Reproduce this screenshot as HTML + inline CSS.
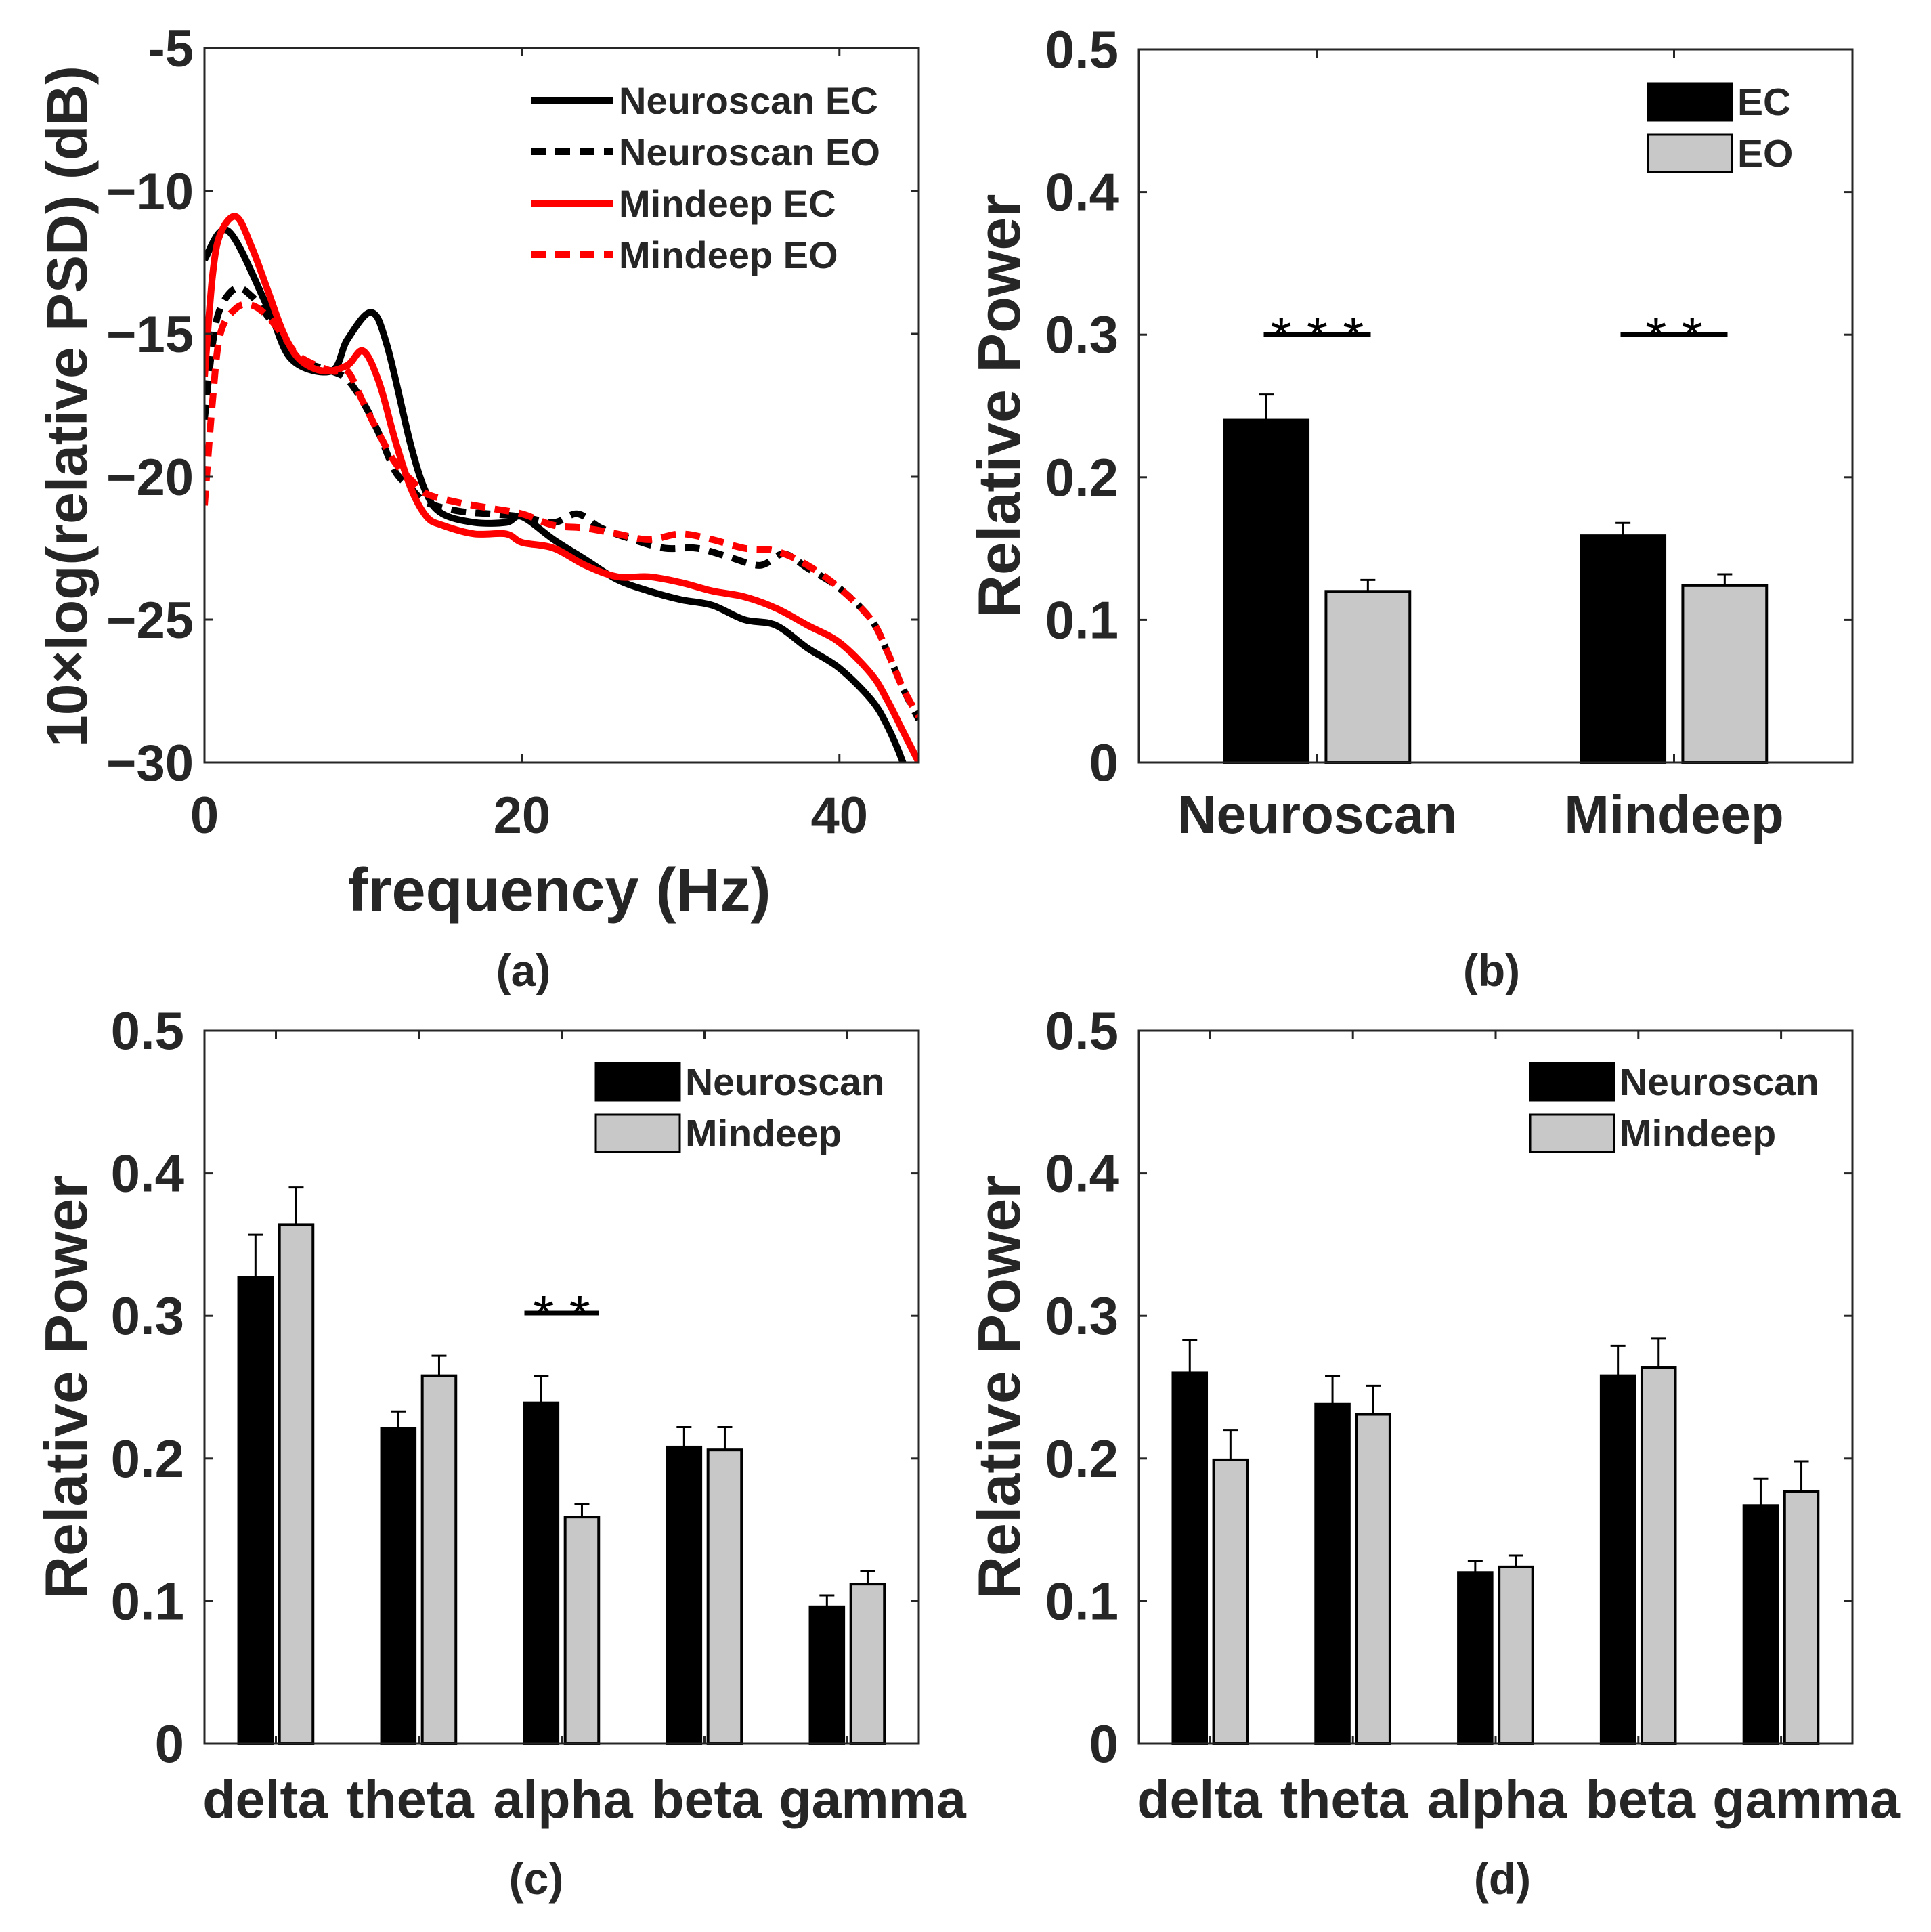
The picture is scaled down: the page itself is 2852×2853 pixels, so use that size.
<!DOCTYPE html>
<html><head><meta charset="utf-8">
<style>
html,body{margin:0;padding:0;background:#fff;}
svg{display:block;font-family:"Liberation Sans",sans-serif;font-weight:bold;}
</style></head>
<body>
<svg id="fig" width="2852" height="2853" viewBox="0 0 2852 2853" xmlns="http://www.w3.org/2000/svg"></svg>
<script>
// ---- Panel (a) data ----
const freqNEC = [0,1.5,4,5.5,8,9,10.5,11.5,13,14,15,17,19,20,22,24,26,28,30,32,34,36,38,40,42,43,44,44.5];
const psdNEC  = [-12.4,-11.4,-14.1,-15.9,-16.3,-15.2,-14.25,-15.4,-18.9,-20.6,-21.3,-21.6,-21.6,-21.4,-22.2,-22.9,-23.6,-24,-24.3,-24.5,-25,-25.2,-26,-26.7,-27.8,-28.7,-30,-31];
const freqMEC = [0,0.5,1,2,3,4,5,6,7.5,9,10,11,12,13,14,15,17,19,20,22,24,26,28,30,32,34,36,38,40,42,43,44,45];
const psdMEC  = [-16.5,-13,-11.5,-10.9,-12,-13.5,-15,-15.9,-16.3,-16.1,-15.6,-16.7,-18.7,-20.4,-21.4,-21.7,-22,-22,-22.3,-22.5,-23.1,-23.5,-23.5,-23.7,-24,-24.2,-24.6,-25.2,-25.8,-26.9,-27.8,-28.9,-30];
const freqNEO = [0,0.5,1,2,3,4,5,6,8,9,10,11,12,13,14,16,18,20,22,23.5,25,27,29,31,33,35,36.5,38,40,42,43,44,45];
const psdNEO  = [-18,-15.4,-14.1,-13.4,-13.7,-14.4,-15.1,-15.9,-16.3,-16.6,-17.4,-18.5,-19.8,-20.4,-20.9,-21.2,-21.3,-21.4,-21.6,-21.3,-21.8,-22.2,-22.5,-22.5,-22.8,-23.1,-22.7,-23.2,-23.9,-25,-26.1,-27.4,-28.5];
const freqMEO = [0,0.5,1,2,3,4,5,6,8,9,10,11,12,13,14,16,18,20,22,24,26,28,30,32,34,36,38,40,42,43,44,45];
const psdMEO  = [-21,-17.4,-15,-14.1,-14,-14.4,-15.1,-15.8,-16.3,-16.3,-17.4,-18.5,-19.5,-20.1,-20.6,-20.9,-21.1,-21.3,-21.7,-21.8,-22,-22.2,-22,-22.2,-22.5,-22.6,-23.1,-23.9,-25,-26.1,-27.4,-28.4];
const aXTicks = [0,20,40];
const aYTicks = [-5,-10,-15,-20,-25,-30];
const aYLabels = ["-5","\u221210","\u221215","\u221220","\u221225","\u221230"];

// ---- Panel (b) data ----
const bCats = ["Neuroscan","Mindeep"];
const bEC = [0.240,0.159];
const bECerr = [0.018,0.009];
const bEO = [0.120,0.124];
const bEOerr = [0.008,0.008];

// ---- Panel (c) data ----
const bands = ["delta","theta","alpha","beta","gamma"];
const cNeuro = [0.327,0.221,0.239,0.208,0.096];
const cNeuroErr = [0.030,0.012,0.019,0.014,0.008];
const cMind = [0.364,0.258,0.159,0.206,0.112];
const cMindErr = [0.026,0.014,0.009,0.016,0.009];

// ---- Panel (d) data ----
const dNeuro = [0.260,0.238,0.120,0.258,0.167];
const dNeuroErr = [0.023,0.020,0.008,0.021,0.019];
const dMind = [0.199,0.231,0.124,0.264,0.177];
const dMindErr = [0.021,0.020,0.008,0.020,0.021];

const barYTicks = [0,0.1,0.2,0.3,0.4,0.5];
const barYLabels = ["0","0.1","0.2","0.3","0.4","0.5"];

const NS="http://www.w3.org/2000/svg";
const svg=document.getElementById('fig');
const AX="#262626";
function mk(tag,attrs,parent){const e=document.createElementNS(NS,tag);for(const k in attrs)e.setAttribute(k,attrs[k]);(parent||svg).appendChild(e);return e;}
function txt(s,x,y,size,anchor,parent){const t=mk('text',{x:x,y:y,'font-size':size,'text-anchor':anchor||'middle',fill:AX},parent);t.textContent=s;return t;}

function frame(g,L,R,T,B){
  mk('rect',{x:L,y:T,width:R-L,height:B-T,fill:'none',stroke:AX,'stroke-width':3},g);
}

// ===== Panel A =====
(function(){
  const L=302,R=1357,T=71,B=1126;
  const g=mk('g',{});
  
  
  const sx=f=>L+(f-0)/(45-0)*(R-L);
  const sy=v=>T+(-5-v)/25*(B-T);
  mk('clipPath',{id:'clipA'},g);
  const cp=g.lastChild; mk('rect',{x:L,y:T,width:R-L,height:B-T},cp);
  const series=[
    [freqNEC,psdNEC,'#000',null,'neuroscan-ec-line'],
    [freqNEO,psdNEO,'#000','22,14','neuroscan-eo-line'],
    [freqMEC,psdMEC,'#f00',null,'mindeep-ec-line'],
    [freqMEO,psdMEO,'#f00','22,14','mindeep-eo-line']];
  series.forEach(s=>{
    const pts=s[0].map((f,i)=>[sx(f),sy(s[1][i])]);
    let d='M'+pts[0][0]+','+pts[0][1];
    for(let i=0;i<pts.length-1;i++){
      const p0=pts[Math.max(0,i-1)],p1=pts[i],p2=pts[i+1],p3=pts[Math.min(pts.length-1,i+2)];
      const c1=[p1[0]+(p2[0]-p0[0])/6,p1[1]+(p2[1]-p0[1])/6];
      const c2=[p2[0]-(p3[0]-p1[0])/6,p2[1]-(p3[1]-p1[1])/6];
      d+=' C'+c1[0]+','+c1[1]+' '+c2[0]+','+c2[1]+' '+p2[0]+','+p2[1];
    }
    const p=mk('path',{d:d,fill:'none',stroke:s[2],'stroke-width':10,'clip-path':'url(#clipA)','stroke-linejoin':'round'},g);
    if(s[3])p.setAttribute('stroke-dasharray',s[3]);
    
    
  });
  frame(g,L,R,T,B);
  aXTicks.forEach(v=>{
    const x=sx(v);
    mk('line',{x1:x,y1:B,x2:x,y2:B-12,stroke:AX,'stroke-width':3},g);
    mk('line',{x1:x,y1:T,x2:x,y2:T+12,stroke:AX,'stroke-width':3},g);
    const t=txt(String(v),x,1230,76,'middle',g);
    
    
  });
  aYTicks.forEach((v,i)=>{
    const y=sy(v);
    mk('line',{x1:L,y1:y,x2:L+12,y2:y,stroke:AX,'stroke-width':3},g);
    mk('line',{x1:R,y1:y,x2:R-12,y2:y,stroke:AX,'stroke-width':3},g);
    const t=txt(aYLabels[i],286,y+27,76,'end',g);
    
    
  });
  const xt=txt('frequency (Hz)',826,1345,90,'middle',g);
  
  
  const yt=txt('10\u00d7log(relative PSD) (dB)',0,0,84,'middle',g);
  yt.setAttribute('transform','translate(128,600) rotate(-90)');
  
  
  const leg=[['Neuroscan EC','#000',null],['Neuroscan EO','#000','22,14'],['Mindeep EC','#f00',null],['Mindeep EO','#f00','22,14']];
  const ly=[148,224,300,376];
  leg.forEach((l,i)=>{
    const ln=mk('line',{x1:784,y1:ly[i],x2:905,y2:ly[i],stroke:l[1],'stroke-width':10},g);
    if(l[2])ln.setAttribute('stroke-dasharray',l[2]);
    
    
    const t=txt(l[0],914,ly[i]+20,56,'start',g);
    
    
  });
})();

// ===== Bar panels =====
function barPanel(name,L,R,T,B,cats,s1,e1,s2,e2,legNames,legX,legY,catSize,catY,ylabX,sig,labShift){
  const g=mk('g',{});
  
  
  const n=cats.length;
  const sx=c=>L+(c-0.5)/n*(R-L);
  const sy=v=>B-v/0.5*(B-T);
  const bw=0.235;
  [[s1,e1,'#000',-0.143],[s2,e2,'#c8c8c8',0.142]].forEach(sr=>{
    sr[0].forEach((v,i)=>{
      const cx=sx(i+1+sr[3]);
      const x0=sx(i+1+sr[3]-bw/2),x1=sx(i+1+sr[3]+bw/2);
      const top=sy(v+sr[1][i]);
      const el=mk('line',{x1:cx,y1:sy(v),x2:cx,y2:top,stroke:'#000','stroke-width':3},g);
      
      
      mk('line',{x1:cx-11,y1:top,x2:cx+11,y2:top,stroke:'#000','stroke-width':3},g);
      const r=mk('rect',{x:x0,y:sy(v),width:x1-x0,height:sy(0)-sy(v),fill:sr[2],stroke:'#000','stroke-width':4},g);
      
      
    });
  });
  frame(g,L,R,T,B);
  cats.forEach((c,i)=>{
    const x=sx(i+1);
    mk('line',{x1:x,y1:B,x2:x,y2:B-12,stroke:AX,'stroke-width':3},g);
    mk('line',{x1:x,y1:T,x2:x,y2:T+12,stroke:AX,'stroke-width':3},g);
    const t=txt(c,x+(labShift?labShift[i]:0),catY,catSize,'middle',g);
    
    
  });
  barYTicks.forEach((v,i)=>{
    const y=sy(v);
    mk('line',{x1:L,y1:y,x2:L+12,y2:y,stroke:AX,'stroke-width':3},g);
    mk('line',{x1:R,y1:y,x2:R-12,y2:y,stroke:AX,'stroke-width':3},g);
    const t=txt(barYLabels[i],L-30,y+27,78,'end',g);
    
    
  });
  const yt=txt('Relative Power',0,0,88,'middle',g);
  yt.setAttribute('transform','translate('+ylabX+','+((T+B)/2)+') rotate(-90)');
  
  
  [['#000',legNames[0]],['#c8c8c8',legNames[1]]].forEach((l,i)=>{
    const y=legY+i*76;
    const r=mk('rect',{x:legX,y:y,width:124,height:55,fill:l[0],stroke:'#000','stroke-width':3},g);
    
    
    const t=txt(l[1],legX+132,y+47,57,'start',g);
    
    
  });
  sig.forEach(s=>{
    const y=sy(s.y);
    const cx=sx(s.c);
    const ln=mk('line',{x1:cx-s.hw,y1:y,x2:cx+s.hw,y2:y,stroke:'#000','stroke-width':7},g);
    
    
    const t=mk('text',{x:cx,y:y+30,'font-size':80,'text-anchor':'middle',fill:'#000','font-weight':'normal'},g);
    t.textContent=s.t;
    
    
  });
}
const bandLabelShift=[-16,-13,2,3,37];
barPanel('bar-panel-b',1682,2736,73,1126,bCats,bEC,bECerr,bEO,bEOerr,['EC','EO'],2434,123,80,1230,1506,
  [{c:1,y:0.3,t:'* * *',hw:79},{c:2,y:0.3,t:'* *',hw:79}],null);
barPanel('bar-panel-c',302,1357,1522,2575,bands,cNeuro,cNeuroErr,cMind,cMindErr,['Neuroscan','Mindeep'],880,1570,79,2684,128,
  [{c:3,y:0.302,t:'* *',hw:55}],bandLabelShift);
barPanel('bar-panel-d',1682,2736,1522,2575,bands,dNeuro,dNeuroErr,dMind,dMindErr,['Neuroscan','Mindeep'],2260,1570,79,2684,1506,[],bandLabelShift);

[['(a)',773,1456],['(b)',2203,1456],['(c)',792,2797],['(d)',2219,2797]].forEach(c=>{
  const t=txt(c[0],c[1],c[2],66,'middle');
  
  
});
</script>
</body></html>
